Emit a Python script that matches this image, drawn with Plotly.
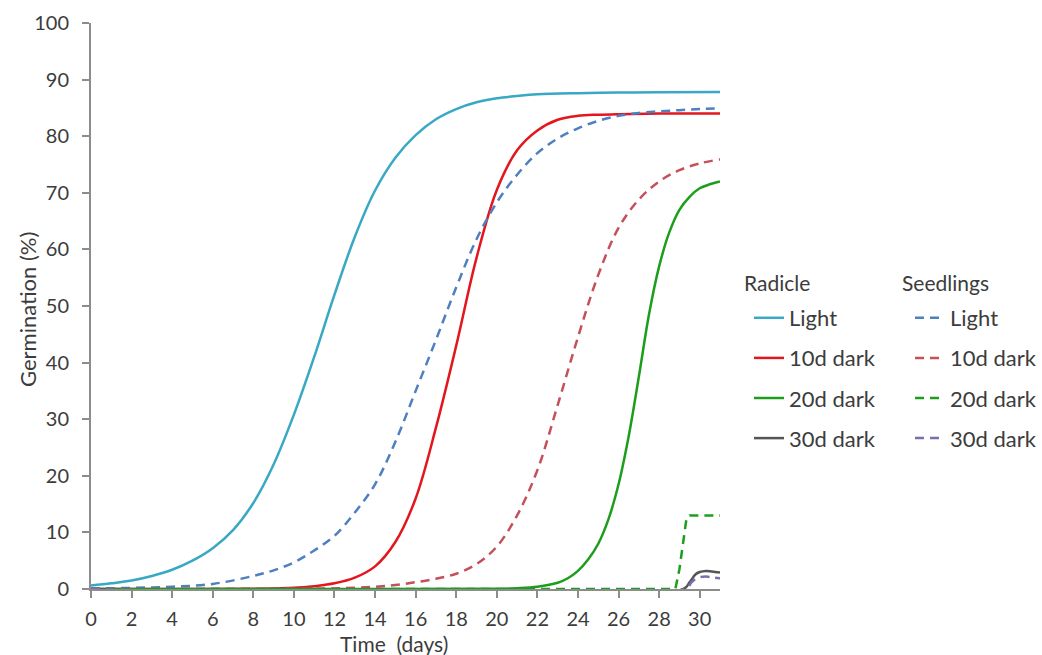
import plotly.graph_objects as go

# ---- data (time in days, germination in %) ----
t_rad_light = [0, 1, 2, 3, 4, 5, 6, 7, 8, 9, 10, 11, 12, 13, 14, 15, 16, 17, 18, 19, 20, 21, 22, 24, 26, 28, 31]
v_rad_light = [0.6, 1.0, 1.5, 2.3, 3.4, 5.0, 7.2, 10.4, 15.2, 22.0, 30.8, 41.0, 52.0, 62.2, 70.4, 76.2, 80.2, 83.0, 84.8, 86.0, 86.7, 87.1, 87.4, 87.6, 87.7, 87.75, 87.8]

t_rad_10d = [0, 4, 8, 10, 11, 12, 13, 14, 15, 16, 17, 18, 19, 20, 21, 22, 23, 24, 25, 26, 28, 31]
v_rad_10d = [0, 0, 0.05, 0.2, 0.5, 1.0, 2.0, 4.0, 8.3, 16.0, 28.5, 43.0, 58.5, 70.5, 77.5, 81.0, 82.9, 83.6, 83.8, 83.9, 84.0, 84.0]

t_rad_20d = [0, 10, 20, 21, 22, 23, 23.5, 24, 24.5, 25, 25.5, 26, 26.5, 27, 27.5, 28, 28.5, 29, 29.5, 30, 30.5, 31]
v_rad_20d = [0, 0, 0.05, 0.15, 0.4, 1.1, 1.9, 3.2, 5.2, 8.0, 12.3, 18.5, 27.0, 37.5, 48.5, 57.0, 63.0, 67.0, 69.3, 70.8, 71.5, 72.0]

t_rad_30d = [0, 29.2, 29.5, 29.8, 30.0, 30.3, 30.6, 31]
v_rad_30d = [0, 0, 1.2, 2.6, 3.0, 3.2, 3.1, 2.9]

t_sdl_light = [0, 2, 4, 6, 8, 9, 10, 11, 12, 13, 14, 15, 16, 17, 18, 19, 20, 21, 22, 23, 24, 25, 26, 27, 28, 29, 30, 31]
v_sdl_light = [0.1, 0.2, 0.4, 0.9, 2.3, 3.3, 4.7, 6.8, 9.4, 13.5, 18.5, 26.0, 35.0, 44.0, 53.3, 61.8, 68.3, 73.2, 77.0, 79.6, 81.4, 82.7, 83.6, 84.1, 84.4, 84.6, 84.8, 84.9]

t_sdl_10d = [0, 8, 12, 14, 15, 16, 17, 18, 19, 20, 21, 22, 23, 24, 25, 26, 27, 28, 29, 30, 31]
v_sdl_10d = [0, 0.02, 0.1, 0.4, 0.7, 1.2, 1.8, 2.7, 4.4, 7.5, 13.0, 21.0, 32.5, 44.5, 55.5, 63.8, 68.8, 72.0, 74.0, 75.2, 75.9]

t_sdl_20d = [0, 28.8, 29.0, 29.2, 29.35, 29.5, 31]
v_sdl_20d = [0, 0, 3.5, 9.0, 12.5, 13.0, 13.0]

t_sdl_30d = [0, 29.3, 29.6, 29.9, 30.3, 30.7, 31]
v_sdl_30d = [0, 0, 1.2, 2.0, 2.2, 2.0, 1.9]

labels = ["Light", "10d dark", "20d dark", "30d dark"]
x_ticks = list(range(0, 31, 2))
y_ticks = list(range(0, 101, 10))

rad_colors = ["#38a8c4", "#e3161e", "#1c9e1c", "#555555"]
sdl_colors = ["#4f7fc0", "#c4505a", "#1c9e1c", "#7e6cb0"]

FONT = "Lato"
TXT = "#3c3c3c"

radicle = [(t_rad_light, v_rad_light), (t_rad_10d, v_rad_10d), (t_rad_20d, v_rad_20d), (t_rad_30d, v_rad_30d)]
seedling = [(t_sdl_light, v_sdl_light), (t_sdl_10d, v_sdl_10d), (t_sdl_20d, v_sdl_20d), (t_sdl_30d, v_sdl_30d)]

fig = go.Figure()
for i, (t, v) in enumerate(radicle):
    fig.add_trace(go.Scatter(
        x=t, y=v, mode="lines", name=labels[i], legend="legend", legendgroup="r%d" % i,
        line=dict(color=rad_colors[i], width=2.5, shape="spline", smoothing=1.0),
    ))
for i, (t, v) in enumerate(seedling):
    fig.add_trace(go.Scatter(
        x=t, y=v, mode="lines", name=labels[i], legend="legend2", legendgroup="s%d" % i,
        line=dict(color=sdl_colors[i], width=2.5, dash="9px,6px",
                  shape="linear" if i == 2 else "spline", smoothing=1.0),
    ))

axis_common = dict(
    showline=True, linecolor="#8c8c8c", linewidth=2,
    ticks="outside", tickcolor="#8c8c8c", ticklen=7, tickwidth=1.5,
    showgrid=False, zeroline=False, layer="below traces", automargin=False,
    tickfont=dict(family=FONT, size=20, color=TXT),
)

W, H = 1042, 655
pl, pr, pt, pb = 91, 322, 23, 66
pw, ph = W - pl - pr, H - pt - pb


def px_to_paper(px, py):
    return (px - pl) / pw, 1 - (py - pt) / ph


def label(text, px, py, size, angle=0, anchor="left"):
    x, y = px_to_paper(px, py)
    return dict(text=text, x=x, y=y, xref="paper", yref="paper", xanchor=anchor,
                yanchor="middle", showarrow=False, textangle=angle,
                font=dict(family=FONT, size=size, color=TXT))


fig.update_layout(
    width=W, height=H,
    margin=dict(l=pl, r=pr, t=pt, b=pb),
    paper_bgcolor="white", plot_bgcolor="white",
    font=dict(family=FONT, color=TXT),
    xaxis=dict(range=[0, 31], tickvals=x_ticks, ticklabelstandoff=4, **axis_common),
    yaxis=dict(range=[0, 100], tickvals=y_ticks, ticklabelstandoff=9, **axis_common),
    legend=dict(
        x=749 / W, xref="container", xanchor="left",
        y=1 - 297 / H, yref="container", yanchor="top",
        font=dict(family=FONT, size=22, color=TXT),
        traceorder="grouped", tracegroupgap=8.5, bgcolor="rgba(0,0,0,0)",
    ),
    legend2=dict(
        x=910 / W, xref="container", xanchor="left",
        y=1 - 297 / H, yref="container", yanchor="top",
        font=dict(family=FONT, size=22, color=TXT),
        traceorder="grouped", tracegroupgap=8.5, bgcolor="rgba(0,0,0,0)",
    ),
    annotations=[
        label("Radicle", 742, 283, 21),
        label("Seedlings", 900, 283, 21),
        label("Time  (days)", 394, 643, 21, anchor="center"),
        label("Germination (%)", 27, 310, 22, angle=-90, anchor="center"),
    ],
)

fig.write_html("out.html", config={"displayModeBar": False},
               post_script="document.body.style.margin='0px';")
